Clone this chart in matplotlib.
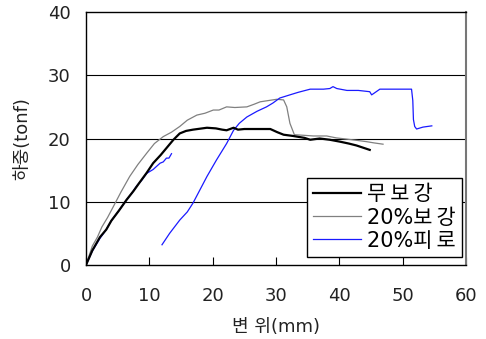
import matplotlib
matplotlib.use("Agg")
import matplotlib.pyplot as plt

plt.rcParams['font.family'] = ['DejaVu Sans', 'Noto Sans CJK KR']

# 무보강
x_none = [0, 1.0, 2.2, 3.2, 4.0, 5.2, 6.4, 7.5, 8.5, 9.6, 10.6, 11.8, 12.8, 13.8, 14.8, 15.8, 16.9, 19.1, 20.5, 21.5, 22.2, 23.3, 24.0, 25.0, 27.0, 29.1, 30.2, 31.2, 32.7, 34.5, 35.4, 36.9, 38.5, 40.1, 41.5, 42.7, 44.8]
y_none = [0, 2.3, 4.4, 5.6, 7.0, 8.6, 10.3, 11.7, 13.1, 14.6, 16.1, 17.4, 18.6, 19.8, 20.8, 21.2, 21.4, 21.7, 21.6, 21.4, 21.3, 21.7, 21.4, 21.5, 21.5, 21.5, 21.0, 20.6, 20.4, 20.1, 19.8, 20.0, 19.8, 19.5, 19.2, 18.9, 18.2]

# 20%보강
x_rein = [0, 1.0, 1.8, 2.5, 3.4, 4.3, 5.5, 6.9, 8.2, 9.6, 10.8, 12.2, 13.5, 14.8, 16.0, 17.5, 18.8, 20.1, 21.0, 22.2, 23.5, 25.4, 26.5, 27.5, 28.8, 30.1, 31.2, 31.7, 32.2, 32.9, 34.5, 35.9, 38.0, 39.5, 41.2, 42.8, 44.3, 45.5, 46.9]
y_rein = [0, 3.0, 4.4, 6.0, 7.5, 9.2, 11.5, 14.0, 15.9, 17.7, 19.2, 20.3, 21.0, 21.9, 22.9, 23.7, 24.0, 24.5, 24.5, 25.0, 24.9, 25.0, 25.4, 25.8, 26.0, 26.2, 26.1, 25.0, 22.4, 20.6, 20.5, 20.4, 20.4, 20.1, 19.9, 19.7, 19.5, 19.3, 19.1]

# 20%피로 (first loading)
x_fat1 = [0, 1.0, 2.2, 3.2, 4.0, 5.2, 6.4, 7.2, 8.0, 8.8, 9.6, 10.6, 11.7, 12.2, 12.7, 13.1, 13.5]
y_fat1 = [0, 2.2, 4.2, 5.6, 7.0, 8.6, 10.3, 11.3, 12.5, 13.4, 14.5, 15.1, 16.1, 16.3, 16.9, 16.9, 17.6]

# 20%피로 (second loading)
x_fat2 = [12.0, 13.2, 14.8, 16.0, 16.9, 18.0, 19.1, 20.6, 21.4, 22.2, 23.3, 24.2, 25.4, 27.0, 28.5, 29.5, 30.6, 32.2, 33.5, 35.4, 37.5, 38.5, 39.0, 39.6, 41.2, 43.0, 44.8, 45.1, 45.4, 46.4, 51.4, 51.6, 51.7, 51.9, 52.2, 53.2, 54.6]
y_fat2 = [3.2, 5.0, 7.1, 8.4, 9.8, 11.9, 14.0, 16.6, 17.9, 19.2, 21.3, 22.4, 23.4, 24.3, 25.0, 25.6, 26.4, 26.9, 27.3, 27.8, 27.8, 27.9, 28.2, 27.9, 27.6, 27.6, 27.4, 26.9, 27.1, 27.8, 27.8, 26.0, 23.0, 21.9, 21.5, 21.8, 22.0]

x_ticks = [0, 10, 20, 30, 40, 50, 60]
y_ticks = [0, 10, 20, 30, 40]

fig = plt.figure(figsize=(4.86, 3.39), dpi=100)
ax = fig.add_axes([86/486, 1 - 265/339, 380/486, 253/339])

for yv in [10, 20, 30]:
    ax.axhline(yv, color='black', lw=0.8, zorder=1)

l1, = ax.plot(x_none, y_none, color='black', lw=1.6, label='무\u2009보\u2009강', zorder=3)
l2, = ax.plot(x_rein, y_rein, color='#808080', lw=0.9, label='20%보\u2009강', zorder=2)
l3, = ax.plot(x_fat1, y_fat1, color='#1a1aff', lw=0.9, label='20%피\u2009로', zorder=2)
ax.plot(x_fat2, y_fat2, color='#1a1aff', lw=0.9, zorder=2)

ax.set_xlim(0, 60)
ax.set_ylim(0, 40)
ax.set_xticks(x_ticks)
ax.set_yticks(y_ticks)
ax.tick_params(axis='x', direction='in', length=6, width=0.8, labelsize=13, pad=16)
ax.tick_params(axis='y', length=0, labelsize=13, pad=11)
for lab in ax.get_xticklabels() + ax.get_yticklabels():
    lab.set_color('#222222')
for s in ['left', 'bottom', 'top']:
    ax.spines[s].set_color('black')
    ax.spines[s].set_linewidth(1.0)
ax.spines['right'].set_color('#777777')
ax.spines['right'].set_linewidth(1.5)

ax.set_xlabel('변 위(mm)', fontsize=13, color='#222222', labelpad=9)
ax.set_ylabel('하중(tonf)', fontsize=13, color='#222222', labelpad=12)

leg = ax.legend(handles=[l1, l2, l3], loc='lower right', fontsize=15,
                bbox_to_anchor=(462/486, 1 - 257/339), bbox_transform=fig.transFigure,
                frameon=True, fancybox=False, edgecolor='black',
                borderaxespad=0, handlelength=2.3, handletextpad=0.3,
                labelspacing=0.15, borderpad=0.3)
leg.get_frame().set_linewidth(1.0)
leg.get_frame().set_alpha(1)

fig.savefig('out.png', dpi=100)
